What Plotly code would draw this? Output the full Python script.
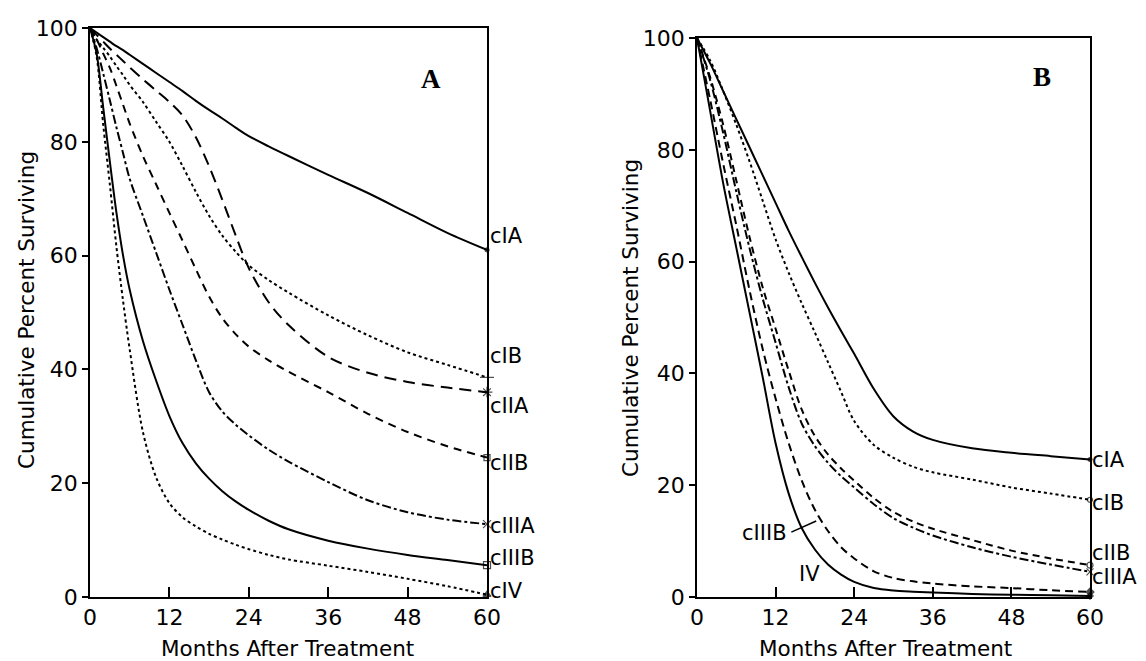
import plotly.graph_objects as go

# ---------------- data ----------------
months_A = [0, 1, 2, 3, 4, 5, 6, 8, 10, 12, 14, 16, 18, 20, 22, 24, 27, 30, 36, 42, 48, 54, 60]
A_cIA   = [100, 99.2, 98.4, 97.6, 96.8, 96.1, 95.3, 93.7, 92.1, 90.5, 88.9, 87.2, 85.6, 84.1, 82.5, 81, 79.2, 77.5, 74.2, 71, 67.5, 64, 61]
A_cIB   = [100, 98, 96.5, 95, 93.3, 91.7, 90, 87, 83.5, 80, 75.7, 71.2, 67, 63.5, 60.7, 58.3, 55.7, 53.5, 49.5, 46, 43, 40.8, 38.6]
A_cIIA  = [100, 98.8, 97.6, 96.4, 95.3, 94.2, 93.1, 91, 89, 87, 84.6, 80.8, 75.7, 69.8, 63.6, 57.8, 51.8, 47.8, 42.2, 39.4, 37.8, 36.8, 36]
A_cIIB  = [100, 98, 95.5, 93, 89.8, 86.5, 83.2, 77.5, 72.5, 67.5, 62.6, 57.6, 52.8, 49, 46.2, 44, 41.6, 39.6, 36, 32.2, 29, 26.5, 24.5]
A_cIIIA = [100, 96.5, 92, 87.3, 82.5, 78, 73.5, 67, 60.5, 54, 47.8, 41.6, 36, 32.6, 30.3, 28.4, 25.9, 23.8, 20.2, 17, 14.9, 13.6, 12.8]
A_cIIIB = [100, 95.5, 86, 76.5, 67.5, 60, 54, 45, 38, 31.8, 27, 23.5, 20.8, 18.6, 16.8, 15.3, 13.4, 11.9, 9.9, 8.5, 7.4, 6.5, 5.6]
A_cIV   = [100, 95, 83, 72.5, 61.5, 52, 43.5, 29, 21, 16.5, 14, 12.4, 11.1, 10.1, 9.2, 8.4, 7.4, 6.6, 5.5, 4.4, 3.2, 1.9, 0.4]

months_B = [0, 2, 4, 6, 8, 10, 12, 14, 16, 18, 20, 22, 24, 27, 30, 33, 36, 42, 48, 54, 60]
B_cIA   = [100, 95.5, 90.5, 85.5, 80.5, 75.5, 70.5, 65.5, 60.8, 56.2, 51.8, 47.6, 43.5, 37.2, 32.3, 29.6, 28.1, 26.6, 25.8, 25.2, 24.6]
B_cIB   = [100, 96, 90.5, 84.5, 78, 71, 64, 58, 52.5, 47.3, 42, 36.7, 31.5, 27.2, 24.9, 23.3, 22.3, 21, 19.6, 18.5, 17.4]
B_cIIB  = [100, 93, 84.5, 74.5, 64.5, 55.5, 48, 40.5, 33.5, 28.8, 25.5, 23, 20.8, 17.7, 15.2, 13.5, 12.2, 10.2, 8.3, 6.9, 5.7]
B_cIIIA = [100, 92.5, 83, 72.5, 62.5, 53.5, 45.5, 37.5, 31, 27, 24, 21.6, 19.6, 16.6, 14.1, 12.4, 11, 8.9, 7.2, 5.8, 4.5]
B_cIIIB = [100, 89, 77.5, 66.5, 55, 44.5, 35.5, 27.5, 20.8, 15.6, 11.8, 8.9, 6.9, 4.6, 3.4, 2.8, 2.4, 1.9, 1.6, 1.2, 0.9]
B_IV    = [100, 87, 74, 62.5, 51, 39.5, 27.5, 18.5, 12.3, 8.5, 5.8, 4.0, 2.7, 1.6, 1.15, 0.95, 0.8, 0.55, 0.4, 0.3, 0.2]

x_ticks = [0, 12, 24, 36, 48, 60]
y_ticks = [0, 20, 40, 60, 80, 100]
labels_A = ["cIA", "cIB", "cIIA", "cIIB", "cIIIA", "cIIIB", "cIV"]
labels_B = ["cIA", "cIB", "cIIB", "cIIIA", "cIIIB", "IV"]

# ---------------- figure ----------------
W, H = 1146, 661
FONT = "DejaVu Sans"
fig = go.Figure()

def px_x(p):
    return p / W

def px_y(p):
    return 1 - p / H

styles_A = ["solid", "dot", "12px,7px", "8px,6px", "dashdot", "solid", "dot"]
series_A = [A_cIA, A_cIB, A_cIIA, A_cIIB, A_cIIIA, A_cIIIB, A_cIV]
for name, vals, dash in zip(labels_A, series_A, styles_A):
    fig.add_trace(go.Scatter(x=months_A, y=vals, mode="lines", name=name,
                             line=dict(color="black", width=2, dash=dash,
                                       shape="spline", smoothing=0.9),
                             xaxis="x", yaxis="y", showlegend=False))

styles_B = ["solid", "dot", "7px,5px", "dashdot", "8px,5px", "solid"]
series_B = [B_cIA, B_cIB, B_cIIB, B_cIIIA, B_cIIIB, B_IV]
for name, vals, dash in zip(labels_B, series_B, styles_B):
    fig.add_trace(go.Scatter(x=months_B, y=vals, mode="lines", name=name,
                             line=dict(color="black", width=2, dash=dash,
                                       shape="spline", smoothing=0.9),
                             xaxis="x2", yaxis="y2", showlegend=False))

# end-point symbols
sym_A = ["circle", "line-ew-open", "asterisk-open", "square-open", "x-thin-open", "square-open", "triangle-up"]
fig.add_trace(go.Scatter(x=[months_A[-1]] * len(series_A), y=[s[-1] for s in series_A],
                         mode="markers", cliponaxis=False, showlegend=False,
                         marker=dict(symbol=sym_A, size=[4, 10, 9, 6, 8, 7, 7], color="black",
                                     line=dict(color="black", width=1.2)),
                         xaxis="x", yaxis="y"))
sym_B = ["circle", "circle-open", "circle-open", "x-thin-open", "diamond", "diamond"]
fig.add_trace(go.Scatter(x=[months_B[-1]] * len(series_B), y=[s[-1] for s in series_B],
                         mode="markers", cliponaxis=False, showlegend=False,
                         marker=dict(symbol=sym_B, size=[4, 5, 6, 7, 6, 5], color="black",
                                     line=dict(color="black", width=1.2)),
                         xaxis="x2", yaxis="y2"))

axis_common = dict(showline=True, linecolor="black", linewidth=1.5, mirror=True,
                   showgrid=False, zeroline=False, tickcolor="black", automargin=False,
                   tickfont=dict(family=FONT, size=22, color="black"))

fig.update_layout(
    width=W, height=H, paper_bgcolor="white", plot_bgcolor="white",
    margin=dict(l=0, r=0, t=0, b=0), hovermode=False,
    xaxis=dict(domain=[px_x(90), px_x(487)], range=[0, 60], tickvals=x_ticks,
               ticks="inside", ticklen=10, tickwidth=1.5, anchor="y", **axis_common),
    yaxis=dict(domain=[px_y(597), px_y(28)], range=[0, 100], tickvals=y_ticks,
               ticks="outside", ticklen=6, tickwidth=1.5, anchor="x", **axis_common),
    xaxis2=dict(domain=[px_x(697), px_x(1090)], range=[0, 60], tickvals=x_ticks,
                ticks="inside", ticklen=10, tickwidth=1.5, anchor="y2", **axis_common),
    yaxis2=dict(domain=[px_y(597), px_y(38)], range=[0, 100], tickvals=y_ticks,
                ticks="outside", ticklen=6, tickwidth=1.5, anchor="x2", **axis_common),
)

ann = []
lab_font = dict(family=FONT, size=21, color="black")
# right-edge labels, panel A
lab_y_A = [63.5, 42.3, 33.6, 23.6, 12.5, 6.9, 1.0]
for t, yv in zip(labels_A, lab_y_A):
    ann.append(dict(x=60, y=yv, xref="x", yref="y", text=t, showarrow=False,
                    xanchor="left", yanchor="middle", xshift=1, font=lab_font))
# right-edge labels, panel B
lab_y_B = {"cIA": 24.5, "cIB": 16.8, "cIIB": 7.8, "cIIIA": 3.5}
for t, yv in lab_y_B.items():
    ann.append(dict(x=60, y=yv, xref="x2", yref="y2", text=t, showarrow=False,
                    xanchor="left", yanchor="middle", xshift=0, font=lab_font))
ann.append(dict(x=10.3, y=11.5, xref="x2", yref="y2", text="cIIIB", showarrow=False,
                xanchor="center", yanchor="middle", font=lab_font))
ann.append(dict(x=17.2, y=4.2, xref="x2", yref="y2", text="IV", showarrow=False,
                xanchor="center", yanchor="middle", font=lab_font))
# panel letters
ann.append(dict(x=51.5, y=91, xref="x", yref="y", text="<b>A</b>", showarrow=False,
                font=dict(family="Liberation Serif", size=27, color="black")))
ann.append(dict(x=52.7, y=93, xref="x2", yref="y2", text="<b>B</b>", showarrow=False,
                font=dict(family="Liberation Serif", size=27, color="black")))
# axis titles
title_font = dict(family=FONT, size=21.5, color="black")
ann.append(dict(x=px_x(27), y=px_y(310), xref="paper", yref="paper", textangle=-90,
                text="Cumulative Percent Surviving", showarrow=False, font=title_font,
                xanchor="center", yanchor="middle"))
ann.append(dict(x=px_x(630), y=px_y(318), xref="paper", yref="paper", textangle=-90,
                text="Cumulative Percent Surviving", showarrow=False, font=title_font,
                xanchor="center", yanchor="middle"))
ann.append(dict(x=px_x(287), y=px_y(648), xref="paper", yref="paper",
                text="Months After Treatment", showarrow=False, font=title_font,
                xanchor="center", yanchor="middle"))
ann.append(dict(x=px_x(885), y=px_y(648), xref="paper", yref="paper",
                text="Months After Treatment", showarrow=False, font=title_font,
                xanchor="center", yanchor="middle"))
fig.update_layout(annotations=ann)

# leader line from the cIIIB label to its curve
fig.add_shape(type="line", xref="x2", yref="y2", x0=14.4, y0=11.6, x1=18.2, y1=13.6,
              line=dict(color="black", width=1.5))

fig.write_html("out.html", config={"displayModeBar": False},
               post_script="document.body.style.margin='0px';document.body.style.overflow='hidden';")
